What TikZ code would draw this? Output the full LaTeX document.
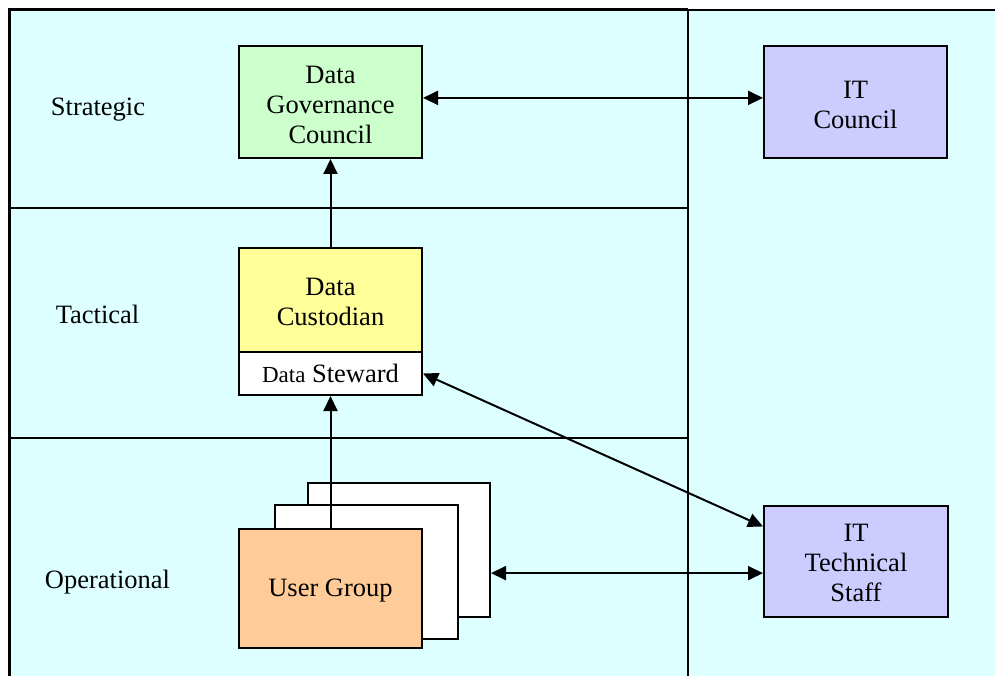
\documentclass[tikz,border=0pt]{standalone}
\usepackage{fontspec}
\setmainfont{Liberation Serif}
\usetikzlibrary{arrows.meta,calc}
\definecolor{bgcyan}{HTML}{DDFFFF}
\definecolor{dgcgreen}{HTML}{CCFFCC}
\definecolor{itblue}{HTML}{CCCCFF}
\definecolor{dcyellow}{HTML}{FFFF99}
\definecolor{ugorange}{HTML}{FFCC99}
\tikzset{
  box/.style={draw=black, line width=2pt, minimum width=183pt, inner sep=0pt},
  boxtext/.style={align=center, inner sep=0pt, font=\fontsize{26.5}{30}\selectfont},
  lvl/.style={font=\fontsize{26.5}{30}\selectfont, inner sep=0pt, text height=18pt, text depth=6pt},
  conn/.style={line width=2pt, -{Triangle[length=15pt,width=14pt]}},
  biconn/.style={line width=2pt, {Triangle[length=15pt,width=14pt]}-{Triangle[length=15pt,width=14pt]}},
  frame/.style={line width=2pt},
}
\begin{document}
\begin{tikzpicture}[x=1pt,y=-1pt]
\useasboundingbox (0,0) rectangle (995,676);
% background
\fill[white] (0,0) rectangle (995,676);
\fill[bgcyan] (9,9) rectangle (1000,680);
% frame lines
\draw[line width=3pt] (9.5,680) -- (9.5,9.5) -- (688,9.5);
\draw[frame] (688,10) -- (1000,10);
\draw[frame] (688,9) -- (688,680);
\draw[frame] (9,208) -- (688,208);
\draw[frame] (9,438) -- (688,438);
% level labels
\node[lvl] (lstr) at (98,110) {Strategic};
\node[lvl] (ltac) at (97.5,317) {Tactical};
\node[lvl] (lop) at (107.5,582) {Operational};
% boxes
\node[box, fill=dgcgreen, minimum height=112pt] (dgc) at (330.5,102) {};
\node[boxtext] (dgct) at ([yshift=-3pt]dgc.center) {Data\\Governance\\Council};
\node[box, fill=itblue, minimum height=112pt] (itc) at (855.5,102) {};
\node[boxtext] (itct) at ([yshift=-3pt]itc.center) {IT\\Council};
\node[box, fill=dcyellow, minimum height=104pt] (dc) at (330.5,300) {};
\node[boxtext] (dct) at ([yshift=-1.5pt]dc.center) {Data\\Custodian};
\node[box, fill=white, minimum height=43pt] (ds) at (330.5,373.5) {};
\node[boxtext] (dst) at (ds.center) {{\fontsize{23}{26}\selectfont Data} Steward};
\node[box, fill=white, minimum height=134pt, minimum width=182pt] (ug3) at (399,550) {};
\node[box, fill=white, minimum height=134pt] (ug2) at (366.5,572) {};
\node[box, fill=ugorange, minimum height=119pt] (ug) at (330.5,588.5) {};
\node[boxtext] (ugt) at ([yshift=-2.5pt]ug.center) {User Group};
\node[box, fill=itblue, minimum height=111pt, minimum width=184pt] (itts) at (856,561.5) {};
\node[boxtext] (ittst) at ([yshift=-1pt]itts.center) {IT\\Technical\\Staff};
% connectors
\coordinate (pa) at ($(dgc.north east)!0.464!(dgc.south east)$);
\draw[biconn] (pa) -- (pa -| itc.west);
\draw[conn] (dc.north) -- (dgc.south);
\draw[conn] (ug.north) -- (ds.south);
\coordinate (pb) at ($(itts.north west)!0.19!(itts.south west)$);
\draw[biconn] (ds.east) -- (pb);
\coordinate (pc) at ($(ug3.north east)!0.67!(ug3.south east)$);
\draw[biconn] (pc) -- (pc -| itts.west);
\end{tikzpicture}
\end{document}
